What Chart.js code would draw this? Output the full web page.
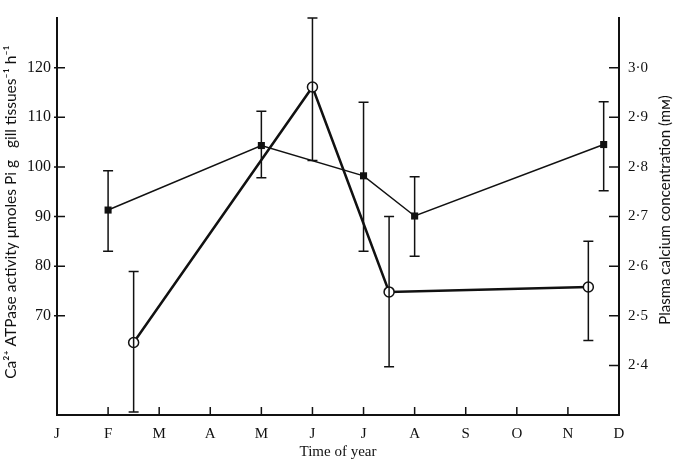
<!DOCTYPE html>
<html>
<head>
<meta charset="utf-8">
<script src="https://cdn.jsdelivr.net/npm/chart.js@4"></script>
<style>
  html, body { margin: 0; padding: 0; background: #fff; }
  #wrap { width: 673px; height: 461px; }
</style>
</head>
<body>
<div id="wrap"><canvas id="myChart" width="673" height="461"></canvas></div>
<script>
// month labels on the x axis (0 = Jan ... 11 = Dec)
const monthLabels = ['J','F','M','A','M','J','J','A','S','O','N','D'];
const leftTicks = [70, 80, 90, 100, 110, 120];
const rightTicks = [2.4, 2.5, 2.6, 2.7, 2.8, 2.9, 3.0];

// Ca2+ ATPase activity (open circles, left axis)
const atpMonth = [1.5, 5, 6.5, 10.4];
const atpValue = [64.6, 116.1, 74.8, 75.8];
const atpHigh  = [78.9, 130, 90, 85];
const atpLow   = [50.6, 101.3, 59.7, 65];

// plasma calcium (filled squares, right axis)
const caMonth = [1, 4, 6, 7, 10.7];
const caValue = [2.713, 2.843, 2.782, 2.701, 2.845];
const caHigh  = [2.792, 2.912, 2.93, 2.78, 2.931];
const caLow   = [2.63, 2.778, 2.63, 2.62, 2.752];

const serif = "'Liberation Serif', 'DejaVu Serif', serif";
const sans = "Lato, 'Open Sans', sans-serif";

let ctxEl = document.getElementById('myChart');

// error bars + inward tick marks + axis titles
const extras = {
    id: 'extras',
    afterDatasetsDraw(c) {
        const ctx = c.ctx;
        const x = c.scales.x, yl = c.scales.y, yr = c.scales.y2;
        const area = c.chartArea;
        ctx.save();
        ctx.strokeStyle = '#111';
        ctx.lineWidth = 1.5;
        const bar = (px, top, bot) => {
            ctx.beginPath();
            ctx.moveTo(px, top); ctx.lineTo(px, bot);
            ctx.moveTo(px - 5, top); ctx.lineTo(px + 5, top);
            ctx.moveTo(px - 5, bot); ctx.lineTo(px + 5, bot);
            ctx.stroke();
        };
        atpMonth.forEach((m, i) => bar(x.getPixelForValue(m), yl.getPixelForValue(atpHigh[i]), yl.getPixelForValue(atpLow[i])));
        caMonth.forEach((m, i) => bar(x.getPixelForValue(m), yr.getPixelForValue(caHigh[i]), yr.getPixelForValue(caLow[i])));

        // tick marks pointing into the plot
        ctx.beginPath();
        for (let m = 1; m < 11; m++) {
            const px = x.getPixelForValue(m);
            ctx.moveTo(px, area.bottom); ctx.lineTo(px, area.bottom - 8);
        }
        leftTicks.forEach(v => {
            const py = yl.getPixelForValue(v);
            ctx.moveTo(area.left - 3, py); ctx.lineTo(area.left + 8, py);
        });
        rightTicks.forEach(v => {
            const py = yr.getPixelForValue(v);
            ctx.moveTo(area.right, py); ctx.lineTo(area.right - 10, py);
        });
        ctx.stroke();

        // both axis titles read bottom to top
        ctx.fillStyle = '#111';
        ctx.textAlign = 'center';
        ctx.textBaseline = 'middle';
        ctx.save();
        ctx.translate(11, 212);
        ctx.rotate(-Math.PI / 2);
        ctx.font = '15.5px ' + sans;
        ctx.fillText('Ca²⁺ ATPase activity μmoles Pi g   gill tissues⁻¹ h⁻¹', 0, 0);
        ctx.restore();

        ctx.translate(665, 210);
        ctx.rotate(-Math.PI / 2);
        ctx.font = '15px ' + sans;
        ctx.fillText('Plasma calcium concentration (mм)', 0, 0);
        ctx.restore();
    }
};

let chart = new Chart(ctxEl, {
    type: 'scatter',
    data: {
        datasets: [
            {
                label: 'Ca2+ ATPase activity',
                data: atpMonth.map((m, i) => ({x: m, y: atpValue[i]})),
                yAxisID: 'y',
                showLine: true,
                borderColor: '#111',
                borderWidth: 2.5,
                pointStyle: 'circle',
                pointRadius: 5,
                pointBackgroundColor: '#fff',
                pointBorderColor: '#111',
                pointBorderWidth: 1.5,
                tension: 0
            },
            {
                label: 'Plasma calcium',
                data: caMonth.map((m, i) => ({x: m, y: caValue[i]})),
                yAxisID: 'y2',
                showLine: true,
                borderColor: '#111',
                borderWidth: 1.5,
                pointStyle: 'rect',
                pointRadius: 5,
                pointBackgroundColor: '#111',
                pointBorderColor: '#111',
                pointBorderWidth: 0,
                tension: 0
            }
        ]
    },
    options: {
        responsive: false,
        animation: false,
        layout: { padding: { top: 7, left: 0, right: 0, bottom: 0 } },
        plugins: { legend: { display: false }, tooltip: { enabled: false } },
        scales: {
            x: {
                type: 'linear', min: 0, max: 11,
                afterBuildTicks: s => { s.ticks = monthLabels.map((_, i) => ({value: i})); },
                afterFit: s => { s.height = 46; },
                grid: { display: false, drawTicks: false },
                border: { display: true, color: '#111', width: 2 },
                ticks: {
                    color: '#111', padding: 10, maxRotation: 0, autoSkip: false,
                    font: { family: serif, size: 15 },
                    callback: v => monthLabels[v]
                },
                title: {
                    display: true, text: 'Time of year', color: '#111',
                    font: { family: serif, size: 15 }, padding: { top: 0, bottom: 0 }
                }
            },
            y: {
                position: 'left', min: 50, max: 130,
                afterBuildTicks: s => { s.ticks = leftTicks.map(v => ({value: v})); },
                afterFit: s => { s.width = 57; },
                grid: { display: false, drawTicks: false },
                border: { display: true, color: '#111', width: 2 },
                ticks: { color: '#111', padding: 6, font: { family: serif, size: 16 } }
            },
            y2: {
                position: 'right', min: 2.3, max: 3.1,
                afterBuildTicks: s => { s.ticks = rightTicks.map(v => ({value: v})); },
                afterFit: s => { s.width = 54; },
                grid: { display: false, drawTicks: false },
                border: { display: true, color: '#111', width: 2 },
                ticks: {
                    color: '#111', padding: 9, font: { family: serif, size: 15 },
                    callback: v => v.toFixed(1).replace('.', '·')
                }
            }
        }
    },
    plugins: [extras]
});
</script>
</body>
</html>
